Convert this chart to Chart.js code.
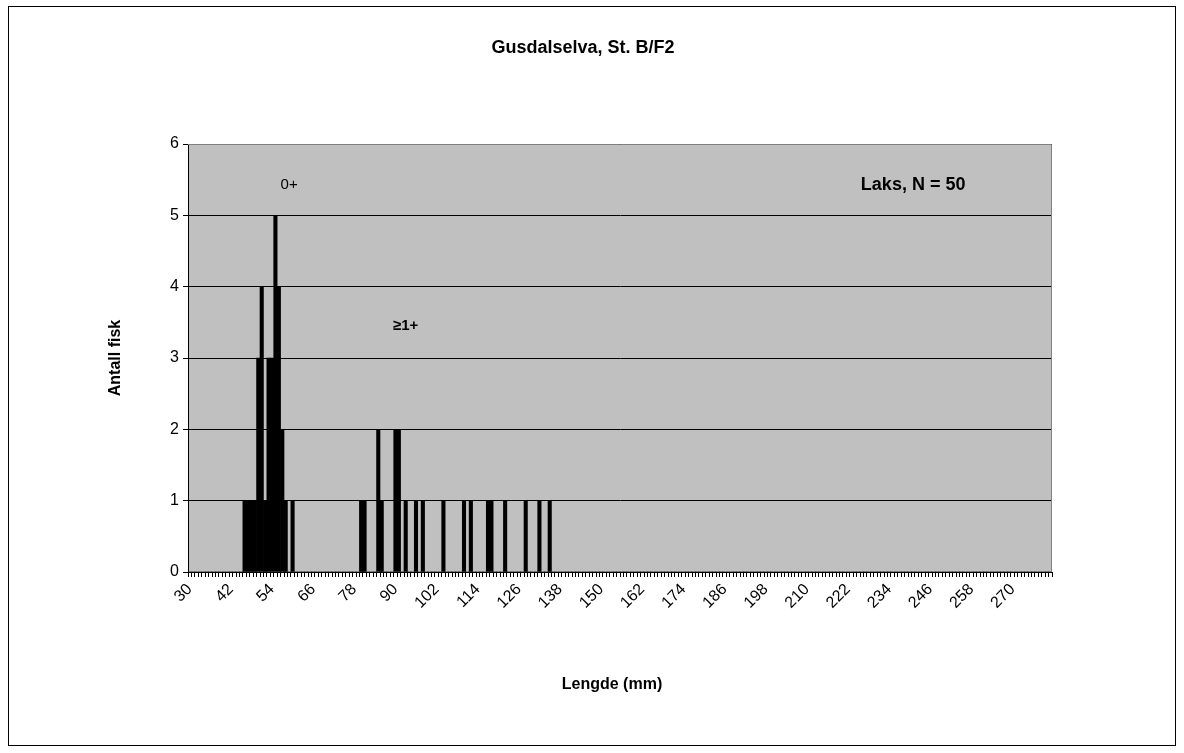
<!DOCTYPE html>
<html>
<head>
<meta charset="utf-8">
<script src="https://cdn.jsdelivr.net/npm/chart.js@4.4.1/dist/chart.umd.min.js"></script>
<style>
  html, body { margin: 0; padding: 0; background: #ffffff; }
  #wrap { width: 1184px; height: 753px; position: relative; }
</style>
</head>
<body>
<div id="wrap"><canvas id="c" width="1184" height="753"></canvas></div>
<script>
// ---- Data ----
const titleText = 'Gusdalselva, St. B/F2';
const xAxisTitle = 'Lengde (mm)';
const yAxisTitle = 'Antall fisk';
const speciesLabel = 'Laks, N = 50';
const groupLabels = ['0+', '\u22651+'];

const firstLength = 30;      // first category on the axis (mm)
const lastLength = 281;      // last category on the axis (mm)
const labelStep = 12;        // a tick label every 12 mm

// 0+ group
const lengths0 = [46, 47, 48, 49, 50, 51, 52, 53, 54, 55, 56, 57, 58, 60];
const counts0  = [ 1,  1,  1,  1,  3,  4,  1,  3,  3,  5,  4,  2,  1,  1];
// >=1+ group
const lengths1 = [80, 81, 85, 86, 90, 91, 93, 96, 98, 104, 110, 112, 117, 118, 122, 128, 132, 135];
const counts1  = [ 1,  1,  2,  1,  2,  2,  1,  1,  1,   1,   1,   1,   1,   1,   1,   1,   1,   1];

const yTicks = [0, 1, 2, 3, 4, 5, 6];

// ---- Build the category table ----
const categories = [];
for (let v = firstLength; v <= lastLength; v++) categories.push(String(v));
const values = categories.map(() => 0);
lengths0.forEach((l, i) => { values[l - firstLength] += counts0[i]; });
lengths1.forEach((l, i) => { values[l - firstLength] += counts1[i]; });

const FONT = '"Liberation Sans", Arial, sans-serif';

const decor = {
  id: 'decor',
  beforeDraw(chart) {
    const { ctx, chartArea: a } = chart;
    ctx.save();
    ctx.fillStyle = '#ffffff';
    ctx.fillRect(0, 0, chart.width, chart.height);
    ctx.fillStyle = '#c0c0c0';
    ctx.fillRect(a.left, a.top, a.right - a.left, a.bottom - a.top);
    ctx.strokeStyle = '#000000';
    ctx.lineWidth = 1;
    ctx.strokeRect(8.5, 6.5, 1167, 739);
    ctx.restore();
  },
  afterDatasetsDraw(chart) {
    const { ctx, chartArea: a } = chart;
    const xs = chart.scales.x, ys = chart.scales.y;
    ctx.save();
    ctx.strokeStyle = '#808080';
    ctx.lineWidth = 1;
    ctx.beginPath();
    ctx.moveTo(a.left, a.top + 0.5);
    ctx.lineTo(a.right - 0.5, a.top + 0.5);
    ctx.lineTo(a.right - 0.5, a.bottom);
    ctx.stroke();
    ctx.fillStyle = '#000000';
    ctx.textAlign = 'center';
    ctx.textBaseline = 'middle';
    // group labels placed in data coordinates
    ctx.font = '15px ' + FONT;
    ctx.fillText(groupLabels[0], xs.getPixelForValue(59 - firstLength), ys.getPixelForValue(5.43));
    ctx.font = 'bold 15px ' + FONT;
    ctx.fillText(groupLabels[1], xs.getPixelForValue(93 - firstLength), ys.getPixelForValue(3.45));
    ctx.font = 'bold 18px ' + FONT;
    ctx.fillText(speciesLabel, xs.getPixelForValue(241 - firstLength), ys.getPixelForValue(5.43));
    // title
    ctx.font = 'bold 18px ' + FONT;
    ctx.fillText(titleText, 583, 48);
    // axis titles
    ctx.font = 'bold 16px ' + FONT;
    ctx.fillText(xAxisTitle, 612, 685);
    ctx.translate(116, 358);
    ctx.rotate(-Math.PI / 2);
    ctx.fillText(yAxisTitle, 0, 0);
    ctx.restore();
  }
};

new Chart(document.getElementById('c'), {
  type: 'bar',
  data: {
    labels: categories,
    datasets: [{
      data: values,
      backgroundColor: '#000000',
      borderWidth: 0,
      barPercentage: 1.0,
      categoryPercentage: 1.0
    }]
  },
  options: {
    responsive: false,
    animation: false,
    devicePixelRatio: 1,
    layout: { padding: { top: 144, right: 132, bottom: 0, left: 0 } },
    plugins: { legend: { display: false }, tooltip: { enabled: false }, title: { display: false } },
    scales: {
      x: {
        type: 'category',
        offset: true,
        afterFit(scale) { scale.height = 753 - 572; },
        border: { display: true, color: '#000000', width: 1 },
        grid: { display: true, drawOnChartArea: false, drawTicks: true, tickLength: 5, color: '#000000', offset: true },
        ticks: {
          autoSkip: false,
          maxRotation: 45,
          minRotation: 45,
          padding: 3,
          color: '#000000',
          font: { family: FONT, size: 16 },
          callback(value, index) {
            return index % labelStep === 0 ? this.getLabelForValue(value) : '';
          }
        }
      },
      y: {
        min: yTicks[0],
        max: yTicks[yTicks.length - 1],
        afterFit(scale) { scale.width = 188; },
        afterBuildTicks(scale) { scale.ticks = yTicks.map(v => ({ value: v })); },
        border: { display: true, color: '#000000', width: 1 },
        grid: { display: true, drawOnChartArea: true, drawTicks: true, tickLength: 5, color: '#000000', lineWidth: 1 },
        ticks: { color: '#000000', padding: 4, font: { family: FONT, size: 16 } }
      }
    }
  },
  plugins: [decor]
});
</script>
</body>
</html>
